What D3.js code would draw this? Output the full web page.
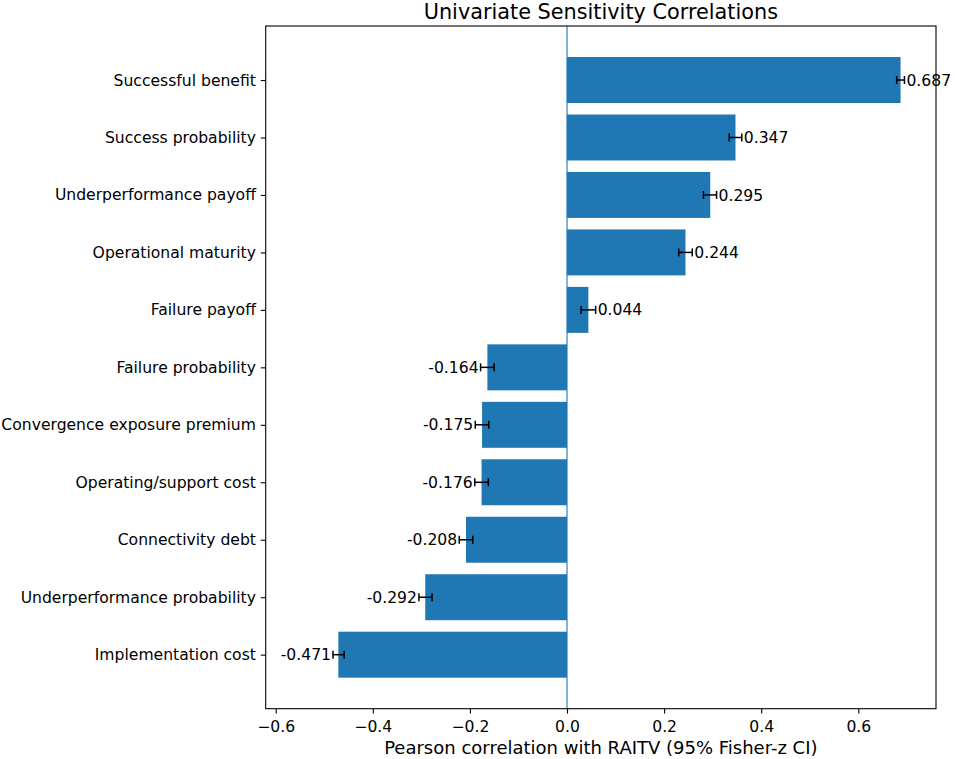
<!DOCTYPE html>
<html>
<head>
<meta charset="utf-8">
<script src="https://cdn.jsdelivr.net/npm/d3@7"></script>
<style>
  html, body { margin: 0; padding: 0; background: #fff; }
  svg { display: block; }
  text { font-family: "DejaVu Sans", sans-serif; fill: #000; }
</style>
</head>
<body>
<svg id="chart" width="955" height="759"></svg>
<script>
// ---- data ----
const categories = [
  "Successful benefit",
  "Success probability",
  "Underperformance payoff",
  "Operational maturity",
  "Failure payoff",
  "Failure probability",
  "Convergence exposure premium",
  "Operating/support cost",
  "Connectivity debt",
  "Underperformance probability",
  "Implementation cost"
];
const correlations = [0.687, 0.347, 0.295, 0.244, 0.044, -0.164, -0.175, -0.176, -0.208, -0.292, -0.471];
const ciLower = [0.679, 0.334, 0.281, 0.230, 0.029, -0.178, -0.189, -0.190, -0.222, -0.305, -0.482];
const ciUpper = [0.695, 0.360, 0.308, 0.258, 0.059, -0.150, -0.161, -0.162, -0.194, -0.278, -0.459];
const xTicks = [-0.6, -0.4, -0.2, 0.0, 0.2, 0.4, 0.6];
const titleText = "Univariate Sensitivity Correlations";
const xLabelText = "Pearson correlation with RAITV (95% Fisher-z CI)";

// ---- layout ----
const plot = { left: 265.7, right: 936, top: 26, bottom: 708.7 };
const barColor = "#1f77b4";
const tickFont = 15.6;
const svg = d3.select("#chart");

const x = d3.scaleLinear().domain([-0.6206, 0.760]).range([plot.left, plot.right]);
const y = d3.scaleLinear().domain([-0.94, categories.length - 1 + 0.94]).range([plot.top, plot.bottom]);
const barH = y(0.4) - y(-0.4);

const rows = categories.map((c, i) => ({
  name: c, r: correlations[i], lo: ciLower[i], hi: ciUpper[i], i
}));

// bars
svg.append("g").selectAll("rect").data(rows).join("rect")
  .attr("x", d => x(Math.min(0, d.r)))
  .attr("width", d => Math.abs(x(d.r) - x(0)))
  .attr("y", d => y(d.i) - barH / 2)
  .attr("height", barH)
  .attr("fill", barColor);

// zero line
svg.append("line")
  .attr("x1", x(0)).attr("x2", x(0))
  .attr("y1", plot.top).attr("y2", plot.bottom)
  .attr("stroke", barColor).attr("stroke-width", 1.1);

// error bars
const eb = svg.append("g").attr("stroke", "#000").attr("stroke-width", 1.5);
rows.forEach(d => {
  const cy = y(d.i);
  eb.append("line").attr("x1", x(d.lo)).attr("x2", x(d.hi)).attr("y1", cy).attr("y2", cy);
  eb.append("line").attr("x1", x(d.lo)).attr("x2", x(d.lo)).attr("y1", cy - 4).attr("y2", cy + 4);
  eb.append("line").attr("x1", x(d.hi)).attr("x2", x(d.hi)).attr("y1", cy - 4).attr("y2", cy + 4);
});

// value labels
svg.append("g").selectAll("text").data(rows).join("text")
  .attr("x", d => d.r >= 0 ? x(d.hi) + 2 : x(d.lo) - 2)
  .attr("y", d => y(d.i))
  .attr("dy", "0.36em")
  .attr("text-anchor", d => d.r >= 0 ? "start" : "end")
  .attr("font-size", tickFont)
  .text(d => d.r.toFixed(3));

// x axis
const xAxis = d3.axisBottom(x).tickValues(xTicks).tickFormat(d3.format(".1f")).tickSize(4.9).tickPadding(4.9);
const gx = svg.append("g").attr("transform", `translate(0,${plot.bottom})`).call(xAxis);
gx.select(".domain").remove();
gx.selectAll(".tick line").attr("stroke", "#000").attr("stroke-width", 1.1);
gx.selectAll(".tick text").attr("font-size", tickFont).attr("font-family", "DejaVu Sans").attr("fill", "#000")
  .attr("dy", null).attr("y", 732.3 - plot.bottom);

// y axis
const ya = d3.axisLeft(y).tickValues(d3.range(categories.length)).tickFormat(i => categories[i]).tickSize(4.9).tickPadding(4.9);
const gy = svg.append("g").attr("transform", `translate(${plot.left},0)`).call(ya);
gy.select(".domain").remove();
gy.selectAll(".tick line").attr("stroke", "#000").attr("stroke-width", 1.1);
gy.selectAll(".tick text").attr("font-size", tickFont).attr("font-family", "DejaVu Sans").attr("fill", "#000");

// frame
svg.append("rect")
  .attr("x", plot.left).attr("y", plot.top)
  .attr("width", plot.right - plot.left).attr("height", plot.bottom - plot.top)
  .attr("fill", "none").attr("stroke", "#000").attr("stroke-width", 1.1);

// title
svg.append("text")
  .attr("x", (plot.left + plot.right) / 2).attr("y", 19)
  .attr("text-anchor", "middle").attr("font-size", 20.8)
  .text(titleText);

// x label
svg.append("text")
  .attr("x", (plot.left + plot.right) / 2).attr("y", 754.3)
  .attr("text-anchor", "middle").attr("font-size", 18)
  .text(xLabelText);
</script>
</body>
</html>
